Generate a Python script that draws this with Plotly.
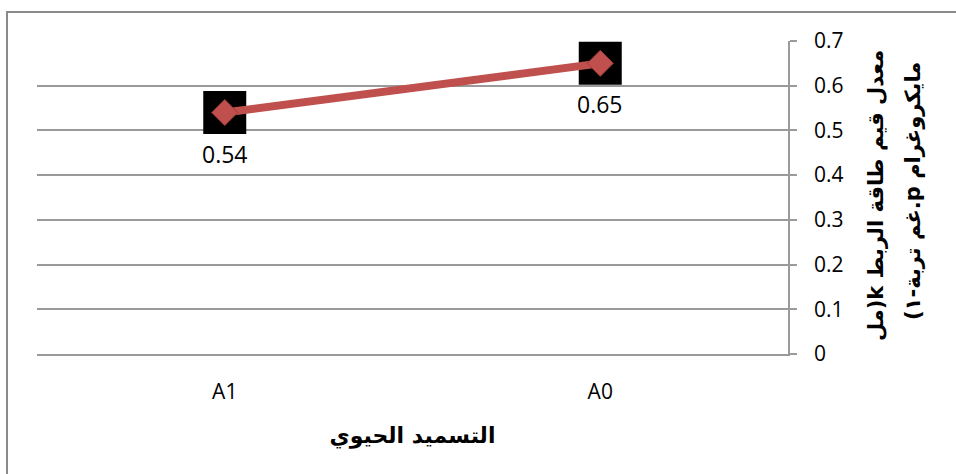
import plotly.graph_objects as go

# ---- data ----
categories = ["A0", "A1"]
values = [0.65, 0.54]
value_labels = ["0.65", "0.54"]
y_tick_values = [0, 0.1, 0.2, 0.3, 0.4, 0.5, 0.6, 0.7]
y_tick_labels = ["0", "0.1", "0.2", "0.3", "0.4", "0.5", "0.6", "0.7"]
x_title = "التسميد الحيوي"
y_title_lines = ["معدل قيم طاقة الربط k(مل", "مايكروغرام p.غم تربة-١)"]

RLE, PDF = "\u202b", "\u202c"

W, H = 956, 474
L, R, T, B = 37, 168, 41, 120
pw, ph = W - L - R, H - T - B

def px_x(p):
    return (p - L) / pw

def px_y(p):
    return (H - B - p) / ph

LINE_RED = "#C0504D"
GRID = "#9a9a9a"
TXT_FONT = "Open Sans"
AR_FONT = "DejaVu Sans"

fig = go.Figure()

# black squares behind markers
fig.add_trace(go.Scatter(
    x=categories, y=values, mode="markers",
    marker=dict(symbol="square", size=43, color="black"),
    hoverinfo="skip", showlegend=False,
))

# main series
fig.add_trace(go.Scatter(
    x=categories, y=values, mode="lines+markers",
    line=dict(color=LINE_RED, width=8),
    marker=dict(symbol="diamond", size=20, color=LINE_RED,
                line=dict(color="#9E3B38", width=1)),
    showlegend=False,
))

annotations = []
for c, v, t in zip(categories, values, value_labels):
    annotations.append(dict(
        x=c, y=v, xref="x", yref="y", text=t, showarrow=False,
        yshift=-41, font=dict(family=TXT_FONT, size=23, color="black"),
    ))

# y-axis title, two rotated lines
for line_text, xpix, ypix in zip(y_title_lines, [876, 913], [195, 191]):
    annotations.append(dict(
        x=px_x(xpix), y=px_y(ypix), xref="paper", yref="paper",
        text=RLE + line_text + PDF, showarrow=False, textangle=-90,
        xanchor="center", yanchor="middle",
        font=dict(family=AR_FONT, size=21, color="black", weight="bold"),
    ))

fig.update_layout(
    width=W, height=H,
    margin=dict(l=L, r=R, t=T, b=B, pad=0),
    paper_bgcolor="white", plot_bgcolor="white",
    annotations=annotations,
    shapes=[dict(
        type="rect", xref="paper", yref="paper",
        x0=px_x(7), x1=px_x(W + 10), y0=px_y(H + 10), y1=px_y(12),
        line=dict(color="#8a8a8a", width=2), fillcolor="rgba(0,0,0,0)",
        layer="below",
    )],
    xaxis=dict(
        type="category", categoryorder="array", categoryarray=categories,
        range=[1.5, -0.5],
        showline=True, linecolor=GRID, linewidth=1.5,
        showgrid=False, zeroline=False, ticks="",
        tickfont=dict(family=TXT_FONT, size=21, color="black"),
        ticklabelstandoff=18,
        title=dict(text=x_title, standoff=24,
                   font=dict(family=AR_FONT, size=22, color="black", weight="bold")),
        automargin=False,
    ),
    yaxis=dict(
        side="right", range=[0, 0.7],
        tickvals=y_tick_values, ticktext=y_tick_labels,
        showgrid=True, gridcolor=GRID, gridwidth=1.5,
        showline=True, linecolor=GRID, linewidth=1.5,
        ticks="outside", ticklen=7, tickcolor=GRID, tickwidth=1.5,
        zeroline=False,
        tickfont=dict(family=TXT_FONT, size=21, color="black"),
        ticklabelstandoff=13,
        automargin=False,
    ),
)

fig.write_html("out.html")
